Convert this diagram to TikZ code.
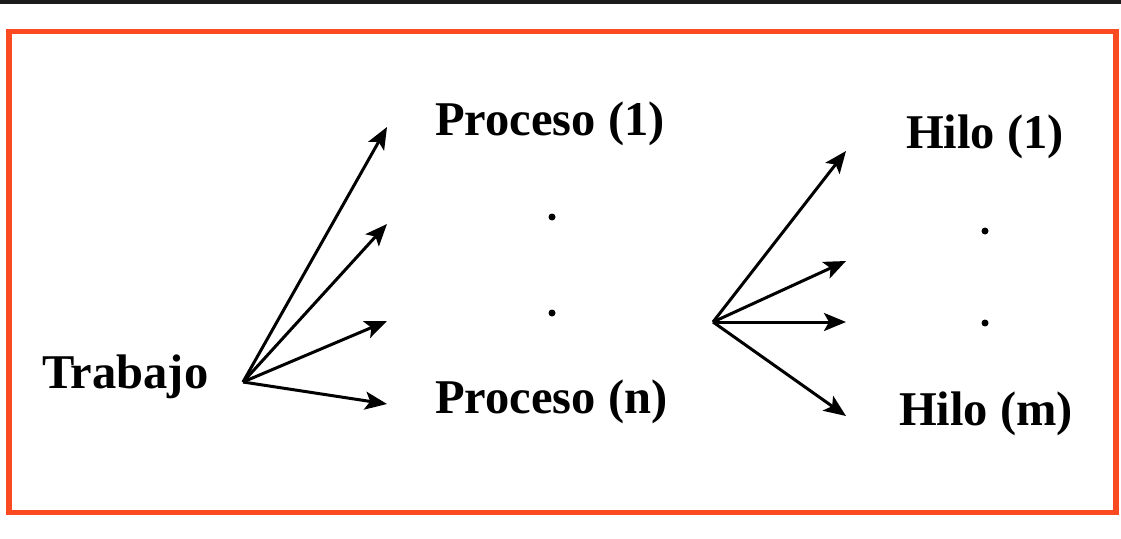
\documentclass[tikz,border=0pt]{standalone}
\usepackage{fontspec}
\setmainfont{Liberation Serif}
\usetikzlibrary{arrows.meta}
\definecolor{frameorange}{RGB}{250,74,34}
\definecolor{topbar}{RGB}{28,28,28}
\begin{document}
\begin{tikzpicture}[x=1pt,y=-1pt,
  lbl/.style={anchor=base west,inner sep=0pt,font=\fontsize{48.5}{50}\selectfont\bfseries},
  arr/.style={line width=3pt,-{Stealth[length=22pt,width=18pt,inset=5pt]}},
  dotmark/.style={circle,fill=black,inner sep=0pt,minimum size=7pt}]
\useasboundingbox (0,0) rectangle (1121,538);
\fill[white] (0,0) rectangle (1121,538);
\fill[topbar] (0,0) rectangle (1121,4);
\draw[frameorange,line width=5.5pt] (9,31.5) rectangle (1116,512.5);
% labels
\node[lbl] (trabajo) at (42,388) {Trabajo};
\node[lbl] (p1) at (435,135) {Proceso (1)};
\node[lbl] (pn) at (435,413) {Proceso (n)};
\node[lbl] (h1) at (906,148) {Hilo (1)};
\node[lbl] (hm) at (899,425) {Hilo (m)};
% dots
\node[dotmark] (pd1) at (552,217) {};
\node[dotmark] (pd2) at (552,313) {};
\node[dotmark] (hd1) at (985,231) {};
\node[dotmark] (hd2) at (985,323) {};
% arrow origins and tips
\coordinate (o1) at (243,382);
\coordinate (t11) at (387,127);
\coordinate (t12) at (387,224);
\coordinate (t13) at (387,321);
\coordinate (t14) at (387,404);
\coordinate (o2) at (713,322);
\coordinate (t21) at (846,151);
\coordinate (t22) at (846,261);
\coordinate (t23) at (846,322);
\coordinate (t24) at (846,416);
\foreach \t in {t11,t12,t13,t14} \draw[arr] (o1) -- (\t);
\foreach \t in {t21,t22,t23,t24} \draw[arr] (o2) -- (\t);
\end{tikzpicture}
\end{document}
